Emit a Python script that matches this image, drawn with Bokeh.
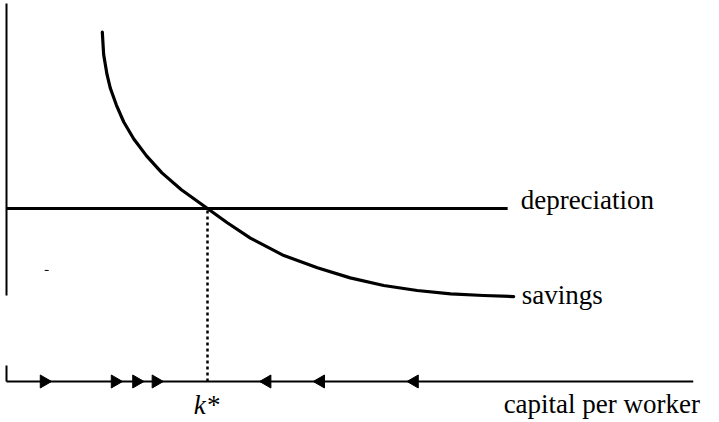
import math
from bokeh.plotting import figure
from bokeh.models import Range1d, Label
from bokeh.embed import file_html
from bokeh.resources import INLINE

# ---- data ----
# savings curve: capital per worker k, savings per worker
savings_k = [1.43, 1.45, 1.50, 1.55, 1.64, 1.75, 1.90, 2.09, 2.32, 2.61, 3.00,
             3.29, 3.64, 4.14, 4.64, 5.13, 5.63, 6.13, 6.63, 7.12, 7.57]
savings_y = [2.02, 1.89, 1.775, 1.695, 1.598, 1.50, 1.402, 1.304, 1.206, 1.108, 1.00,
             0.919, 0.829, 0.728, 0.657, 0.599, 0.555, 0.526, 0.507, 0.497, 0.491]

# depreciation line
depreciation_k = [0.0, 7.48]
depreciation_y = [1.0, 1.0]

# steady state
k_star = 3.0
k_star_y = [0.0, 1.0]

# arrows on the k axis (direction of capital accumulation)
right_arrow_k = [0.56, 1.62, 1.94, 2.23]
left_arrow_k = [3.89, 4.69, 6.09]

# axes extents
x_axis_k = [0.0, 10.25]
y_axis_lower = [0.0, 0.092]
y_axis_upper = [0.497, 2.185]

# small stray mark on the scan
mark_k = [0.57, 0.63]
mark_y = [0.642, 0.642]

labels = {"dep": "depreciation", "sav": "savings", "kstar": "k*",
          "xlab": "capital per worker"}
xlab_k = 7.42

FONT = "Liberation Serif"
FS = "27px"
LIFT = 8  # compensate for Bokeh's baseline placement

p = figure(width=719, height=422, output_backend="svg", toolbar_location=None,
           x_axis_type=None, y_axis_type=None, min_border=0,
           x_range=Range1d(-0.0896, 10.642), y_range=Range1d(-0.237, 2.2023))
p.grid.visible = False
p.outline_line_color = None
p.background_fill_color = "white"
p.border_fill_color = "white"

ink = "black"

# axes
p.line(x_axis_k, [0, 0], line_color=ink, line_width=2)
p.line([0, 0], y_axis_lower, line_color=ink, line_width=2)
p.line([0, 0], y_axis_upper, line_color=ink, line_width=2)

# depreciation
p.line(depreciation_k, depreciation_y, line_color=ink, line_width=3)

# savings
p.line(savings_k, savings_y, line_color=ink, line_width=3.2, line_join="round",
       line_cap="round")

# dotted k* line
p.line([k_star, k_star], k_star_y, line_color=ink, line_width=2.5, line_dash="3 3")

# arrows
p.scatter(right_arrow_k, [0] * len(right_arrow_k), marker="triangle", size=13,
          angle=-math.pi / 2, fill_color=ink, line_color=ink)
p.scatter(left_arrow_k, [0] * len(left_arrow_k), marker="triangle", size=13,
          angle=math.pi / 2, fill_color=ink, line_color=ink)

# stray mark
p.line(mark_k, mark_y, line_color=ink, line_width=1)

# labels
p.add_layout(Label(x=depreciation_k[-1], y=depreciation_y[-1], text=labels["dep"],
                   x_offset=13, y_offset=0 + LIFT, text_baseline="alphabetic",
                   text_font=FONT, text_font_size=FS, text_color=ink))
p.add_layout(Label(x=savings_k[-1], y=savings_y[-1], text=labels["sav"],
                   x_offset=8, y_offset=-6 + LIFT, text_baseline="alphabetic",
                   text_font=FONT, text_font_size=FS, text_color=ink))
p.add_layout(Label(x=k_star, y=0, text=labels["kstar"], x_offset=-1, y_offset=-32 + LIFT,
                   text_align="center", text_baseline="alphabetic",
                   text_font=FONT, text_font_style="italic", text_font_size=FS,
                   text_color=ink))
p.add_layout(Label(x=xlab_k, y=0, text=labels["xlab"], x_offset=0, y_offset=-31 + LIFT,
                   text_baseline="alphabetic", text_font=FONT,
                   text_font_size=FS, text_color=ink))

open("out.html", "w").write(file_html(p, INLINE))
